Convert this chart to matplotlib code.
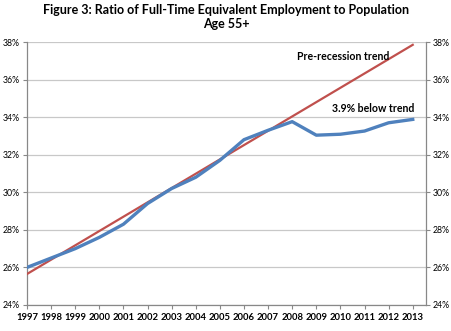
import matplotlib.pyplot as plt

years = list(range(1997, 2014))
ratio = [26.0, 26.5, 27.0, 27.6, 28.3, 29.4, 30.2, 30.8, 31.7, 32.8, 33.3,
         33.76, 33.04, 33.09, 33.26, 33.7, 33.88]
trend_years = [1997, 2013]
trend = [25.65, 37.85]
yticks = [24, 26, 28, 30, 32, 34, 36, 38]

plt.rcParams['font.family'] = ['Lato', 'DejaVu Sans']

fig = plt.figure(figsize=(4.52, 3.31), dpi=100)
ax = fig.add_axes([27 / 452, 26 / 331, 399 / 452, 263 / 331])

ax.plot(trend_years, trend, color='#C0504D', lw=1.6, zorder=3)
ax.plot(years, ratio, color='#4F81BD', lw=2.4, zorder=4)

ax.set_xlim(1997, 2013.55)
ax.set_ylim(24, 38)
ax.set_xticks(years)
ax.set_xticklabels([str(y) for y in years], fontsize=6.8, fontweight='bold')
ax.set_yticks(yticks)
ax.set_yticklabels(['%d%%' % v for v in yticks], fontsize=6.3)
ax.tick_params(axis='x', length=3, color='#888888', pad=3)
ax.tick_params(axis='y', length=3, color='#888888', pad=2,
               right=True, labelright=True)
ax.grid(axis='y', color='#c8c8c8', lw=0.9)
ax.set_axisbelow(True)
ax.spines['top'].set_visible(False)
for s in ['left', 'right', 'bottom']:
    ax.spines[s].set_color('#888888')
    ax.spines[s].set_linewidth(0.9)

ax.text(2010.1, 37.25, 'Pre-recession trend', fontsize=7.6, fontweight='bold',
        ha='center', va='center')
ax.text(2013.08, 34.45, '3.9% below trend', fontsize=7.6, fontweight='bold',
        ha='right', va='center')

fig.text(0.5, 1 - 10 / 331, 'Figure 3: Ratio of Full-Time Equivalent Employment to Population',
         fontsize=9, fontweight='bold', ha='center', va='center')
fig.text(0.5, 1 - 24 / 331, 'Age 55+', fontsize=9, fontweight='bold',
         ha='center', va='center')

fig.savefig('out.png', dpi=100)
